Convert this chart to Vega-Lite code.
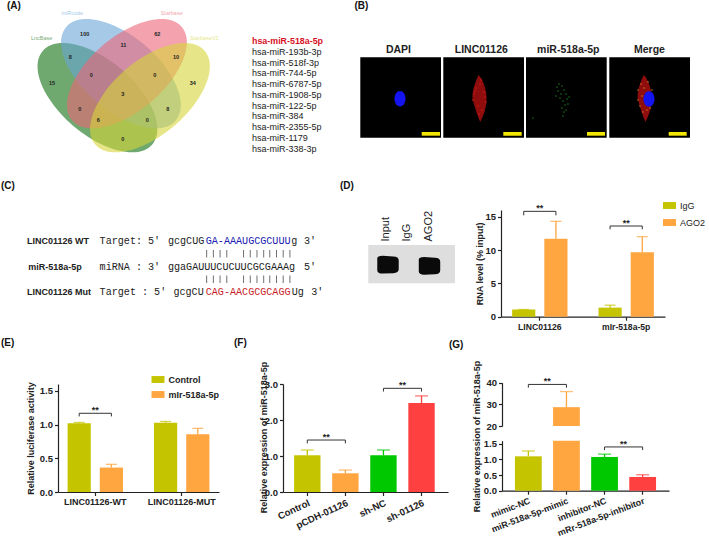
{"$schema":"https://vega.github.io/schema/vega-lite/v6.json","width":709,"height":536,"autosize":{"type":"none"},"padding":0,"background":"white","config":{"view":{"stroke":null},"font":"Liberation Sans","axis":{"grid":false,"labelFont":"Liberation Sans","labelFontWeight":"bold","labelColor":"#222","titleFont":"Liberation Sans","titleFontWeight":"bold","titleColor":"#222","titleFontSize":9,"domainColor":"#222","domainWidth":1.2,"tickColor":"#222","tickWidth":1.2,"tickSize":3.5,"labelOverlap":false,"labelBound":false,"labelFlush":false,"labelPadding":2},"axisX":{"labelFontSize":8.6},"axisY":{"labelFontSize":9.5}},"resolve":{"scale":{"x":"independent","y":"independent","color":"independent","xOffset":"independent"},"axis":{"x":"independent","y":"independent"},"legend":{"color":"independent"}},"layer":[
{"encoding":{"x":{"field":"x","type":"quantitative","scale":{"domain":[0,709],"range":[0,709]},"axis":null},"y":{"field":"y","type":"quantitative","scale":{"domain":[0,536],"range":[0,536]},"axis":null}},"layer":[
{"data":{"values":[{"p":"(A)","x":7,"y":6},{"p":"(B)","x":354.5,"y":6},{"p":"(C)","x":1,"y":186},{"p":"(D)","x":340,"y":186},{"p":"(E)","x":1,"y":342.5},{"p":"(F)","x":234,"y":342.5},{"p":"(G)","x":449,"y":344.5}]},"mark":{"type":"text","align":"left","baseline":"middle","fontWeight":"bold","fontSize":10,"color":"#111"},"encoding":{"text":{"field":"p"}}},
{"data":{"values":[{"set":"LncBase","x":97.5,"y":97.7},{"set":"miRcode","x":121,"y":73.7}]},"mark":{"type":"point","filled":true,"opacity":0.6,"size":40000,"shape":"M0.548 0.467 A0.72 0.37 40.4 1 0 -0.548 -0.467 A0.72 0.37 40.4 1 0 0.548 0.467 Z"},"encoding":{"color":{"field":"set","type":"nominal","scale":{"domain":["LncBase","miRcode","Starbase","StarbaseV2"],"range":["#0f700f","#69a5d5","#ed6678","#d6d638"]},"legend":null}}},
{"data":{"values":[{"set":"Starbase","x":127,"y":73.7},{"set":"StarbaseV2","x":150,"y":97.7}]},"mark":{"type":"point","filled":true,"opacity":0.6,"size":40000,"shape":"M-0.548 0.467 A0.72 0.37 -40.4 1 1 0.548 -0.467 A0.72 0.37 -40.4 1 1 -0.548 0.467 Z"},"encoding":{"color":{"field":"set","type":"nominal","legend":null}}},
{"data":{"values":[{"set":"LncBase","x":41.7,"y":37.7},{"set":"miRcode","x":72.3,"y":13.3},{"set":"Starbase","x":171.7,"y":13.3},{"set":"StarbaseV2","x":204.3,"y":37.7}]},"mark":{"type":"text","fontSize":5.5,"opacity":0.6},"encoding":{"text":{"field":"set"},"color":{"field":"set","type":"nominal","legend":null}}},
{"data":{"values":[{"n":"100","x":84.7,"y":34},{"n":"62","x":157.3,"y":34},{"n":"8","x":70.3,"y":56.7},{"n":"11","x":123.3,"y":45},{"n":"10","x":176,"y":56.7},{"n":"15","x":52,"y":82.7},{"n":"0","x":91.3,"y":75.3},{"n":"0","x":154.7,"y":75.3},{"n":"34","x":192.7,"y":82.7},{"n":"3","x":122.7,"y":94.3},{"n":"0","x":79.7,"y":109},{"n":"8","x":167.7,"y":109},{"n":"6","x":98.3,"y":120},{"n":"0","x":147.3,"y":120},{"n":"0","x":122.7,"y":139}]},"mark":{"type":"text","fontSize":5.5,"fontWeight":"bold","color":"#222","baseline":"middle"},"encoding":{"text":{"field":"n"}}},
{"data":{"values":[{"x":360.3,"x2":441,"y":57.3,"y2":137.7},{"x":443.3,"x2":524,"y":57.3,"y2":137.7},{"x":526,"x2":606.7,"y":57.3,"y2":137.7},{"x":609.3,"x2":690,"y":57.3,"y2":137.7}]},"mark":{"type":"rect","color":"#000000"},"encoding":{"x2":{"field":"x2"},"y2":{"field":"y2"}}},
{"data":{"values":[{"x":421.7,"x2":440,"y":132,"y2":135.7},{"x":503.3,"x2":521.7,"y":132,"y2":135.7},{"x":587,"x2":605,"y":132,"y2":135.7},{"x":668.7,"x2":686.7,"y":132,"y2":135.7}]},"mark":{"type":"rect","color":"#f2e600"},"encoding":{"x2":{"field":"x2"},"y2":{"field":"y2"}}},
{"data":{"values":[{"x":368.3,"x2":455,"y":245,"y2":283.3}]},"mark":{"type":"rect","color":"#dedede"},"encoding":{"x2":{"field":"x2"},"y2":{"field":"y2"}}},
{"data":{"values":[{"t":"DAPI","x":398.5,"y":50},{"t":"LINC01126","x":481.3,"y":50},{"t":"miR-518a-5p","x":568.3,"y":50},{"t":"Merge","x":649.5,"y":50}]},"mark":{"type":"text","fontSize":10.5,"fontWeight":"bold","color":"#222","baseline":"middle"},"encoding":{"text":{"field":"t"}}},
{"data":{"values":[{"c":"LINC","x":479.8,"y":98.5},{"c":"Merge","x":645,"y":98.5}]},"mark":{"type":"point","filled":true,"color":"#8f0d0d","opacity":1,"size":2209,"shape":"M-0.05 -1 C0.15 -0.8 0.32 -0.3 0.28 0.1 C0.27 0.5 0.12 0.8 0.02 1 C-0.1 0.75 -0.2 0.4 -0.3 0.05 C-0.35 -0.2 -0.25 -0.6 -0.05 -1 Z"}},
{"data":{"values":[{"x":476,"y":88},{"x":474,"y":94},{"x":480,"y":84},{"x":484,"y":92},{"x":473,"y":100},{"x":478,"y":106},{"x":482,"y":110},{"x":486,"y":102},{"x":479,"y":114},{"x":481,"y":80},{"x":485,"y":97},{"x":475,"y":91}]},"mark":{"type":"point","filled":true,"color":"#cc1818","opacity":1,"size":3}},
{"data":{"values":[{"x":638,"y":90},{"x":641,"y":84},{"x":644,"y":88},{"x":640,"y":106},{"x":643,"y":112},{"x":638,"y":100},{"x":648,"y":82},{"x":652,"y":90},{"x":647,"y":110},{"x":642,"y":96},{"x":650,"y":108}]},"mark":{"type":"point","filled":true,"color":"#d89020","opacity":1,"size":2}},
{"data":{"values":[{"x":557,"y":87},{"x":559,"y":84},{"x":562,"y":86},{"x":558,"y":91},{"x":561,"y":94},{"x":564,"y":90},{"x":566,"y":94},{"x":560,"y":98},{"x":563,"y":101},{"x":567,"y":99},{"x":569,"y":97},{"x":565,"y":105},{"x":562,"y":108},{"x":568,"y":104},{"x":564,"y":112},{"x":563,"y":116},{"x":533,"y":118},{"x":556,"y":96},{"x":566,"y":110}]},"mark":{"type":"point","filled":true,"color":"#1f8f1f","opacity":1,"size":2}},
{"data":{"values":[{"x":400,"y":98.7},{"x":649,"y":99}]},"mark":{"type":"point","filled":true,"color":"#1414f0","opacity":1,"size":237,"shape":"M-0.72 0 A0.72 1 0 1 1 0.72 0 A0.72 1 0 1 1 -0.72 0 Z"}},
{"data":{"values":[{"t":"Input","x":385.5,"y":241.5},{"t":"IgG","x":407,"y":241.5},{"t":"AGO2","x":429,"y":241.5}]},"mark":{"type":"text","angle":270,"align":"left","baseline":"middle","fontSize":11,"color":"#222"},"encoding":{"text":{"field":"t"}}},
{"data":{"values":[{"band":"Input","x":388,"y":264.8},{"band":"AGO2","x":429.5,"y":266}]},"mark":{"type":"point","filled":true,"color":"#0a0a0a","opacity":1,"size":460,"shape":"M-1 -0.6 Q-1 -0.85 -0.5 -0.85 L0.5 -0.78 Q1 -0.78 1 -0.4 L1 0.4 Q1 0.75 0.5 0.78 L-0.5 0.82 Q-1 0.82 -1 0.5 Z"}}
]},
{"data":{"values":[{"rank":0,"name":"hsa-miR-518a-5p"},{"rank":1,"name":"hsa-miR-193b-3p"},{"rank":2,"name":"hsa-miR-518f-3p"},{"rank":3,"name":"hsa-miR-744-5p"},{"rank":4,"name":"hsa-miR-6787-5p"},{"rank":5,"name":"hsa-miR-1908-5p"},{"rank":6,"name":"hsa-miR-122-5p"},{"rank":7,"name":"hsa-miR-384"},{"rank":8,"name":"hsa-miR-2355-5p"},{"rank":9,"name":"hsa-miR-1179"},{"rank":10,"name":"hsa-miR-338-3p"}]},"encoding":{"x":{"datum":0,"type":"quantitative","scale":{"domain":[0,1],"range":[252,340]},"axis":null},"y":{"field":"rank","type":"quantitative","scale":{"domain":[0,10],"range":[41,148.5]},"axis":null},"text":{"field":"name"},"color":{"condition":{"test":"datum.rank == 0","value":"#d7121f"},"value":"#222"}},"layer":[{"transform":[{"filter":"datum.rank != 0"}],"mark":{"type":"text","align":"left","baseline":"middle","fontSize":9}},{"transform":[{"filter":"datum.rank == 0"}],"mark":{"type":"text","align":"left","baseline":"middle","fontSize":8.9,"fontWeight":"bold"}}]},
{"encoding":{"x":{"field":"col","type":"quantitative","scale":{"domain":[0,50],"range":[27,332]},"axis":null},"y":{"field":"line","type":"quantitative","scale":{"domain":[0,4],"range":[241,292]},"axis":null}},"layer":[
{"data":{"values":[{"t":"LINC01126 WT","col":0,"line":0},{"t":"miR-518a-5p","col":0.2,"line":2},{"t":"LINC01126 Mut","col":0,"line":4}]},"mark":{"type":"text","align":"left","baseline":"middle","fontSize":9,"fontWeight":"bold","color":"#222"},"encoding":{"text":{"field":"t"}}},
{"data":{"values":[{"t":"Target: 5'","col":11.9,"line":0,"tone":"plain"},{"t":"gcgCUG","col":23.1,"line":0,"tone":"plain"},{"t":"GA-AAAUGCGCUUU","col":29.3,"line":0,"tone":"wild type"},{"t":"g","col":43.3,"line":0,"tone":"plain"},{"t":"3'","col":45.4,"line":0,"tone":"plain"},{"t":"miRNA : 3'","col":11.9,"line":2,"tone":"plain"},{"t":"ggaGAUUUCUCUUCGCGAAAg","col":23.1,"line":2,"tone":"plain"},{"t":"5'","col":45.4,"line":2,"tone":"plain"},{"t":"Target : 5'","col":11.9,"line":4,"tone":"plain"},{"t":"gcgCU","col":24,"line":4,"tone":"plain"},{"t":"CAG-AACGCGCAGG","col":29.3,"line":4,"tone":"mutant"},{"t":"Ug","col":43.4,"line":4,"tone":"plain"},{"t":"3'","col":46.6,"line":4,"tone":"plain"}]},"mark":{"type":"text","align":"left","baseline":"middle","font":"Liberation Mono","fontSize":10.1},"encoding":{"text":{"field":"t"},"color":{"field":"tone","type":"nominal","scale":{"domain":["plain","wild type","mutant"],"range":["#222222","#2020b0","#c81e28"]},"legend":null}}},
{"data":{"values":[{"col":29.45,"line":1},{"col":30.55,"line":1},{"col":31.65,"line":1},{"col":32.75,"line":1},{"col":35.5,"line":1},{"col":36.6,"line":1},{"col":37.7,"line":1},{"col":38.8,"line":1},{"col":39.8,"line":1},{"col":40.9,"line":1},{"col":42,"line":1},{"col":43.1,"line":1},{"col":29.45,"line":3},{"col":30.55,"line":3},{"col":31.65,"line":3},{"col":32.75,"line":3},{"col":35.5,"line":3},{"col":36.6,"line":3},{"col":37.7,"line":3},{"col":38.8,"line":3},{"col":39.8,"line":3},{"col":40.9,"line":3},{"col":42,"line":3},{"col":43.1,"line":3}]},"mark":{"type":"tick","orient":"vertical","size":7.5,"thickness":1,"color":"#333"}}
]},
{"data":{"values":[{"group":"LINC01126","series":"IgG","mean":1.08,"upper":1.08},{"group":"LINC01126","series":"AGO2","mean":11.7,"upper":14.3},{"group":"mIr-518a-5p","series":"IgG","mean":1.36,"upper":1.73},{"group":"mIr-518a-5p","series":"AGO2","mean":9.66,"upper":12}]},"encoding":{"x":{"field":"group","type":"nominal","title":null,"scale":{"domain":["LINC01126","mIr-518a-5p"],"range":[501,665],"paddingInner":0.359,"paddingOuter":0.129},"axis":{"orient":"bottom","offset":-219.3,"labelAngle":0}}},"layer":[
{"encoding":{"xOffset":{"field":"series","type":"nominal","scale":{"domain":["IgG","AGO2"],"paddingInner":0.28}},"color":{"field":"series","type":"nominal","scale":{"domain":["IgG","AGO2"],"range":["#c4c400","#ffa640"]},"legend":{"title":null,"orient":"none","legendX":665,"legendY":201,"symbolType":"M-1.5 -0.8 H1.5 V0.8 H-1.5 Z","symbolSize":75,"symbolOpacity":1,"symbolStrokeWidth":0,"labelFont":"Liberation Sans","labelFontSize":9,"labelFontWeight":"normal","labelColor":"#222","rowPadding":7,"labelOffset":6}}},"layer":[
{"mark":{"type":"bar"},"encoding":{"y":{"field":"mean","type":"quantitative","scale":{"domain":[0,15],"range":[316.7,210]},"axis":{"orient":"left","offset":-501,"values":[0,5,10,15],"title":"RNA level (% input)","titleX":-17}}}},
{"mark":{"type":"rule","strokeWidth":1.3},"encoding":{"y":{"field":"mean","type":"quantitative"},"y2":{"field":"upper"}}},
{"mark":{"type":"tick","orient":"horizontal","size":11,"thickness":1.3},"encoding":{"y":{"field":"upper","type":"quantitative"}}}]},
{"data":{"values":[{"b":1,"group":"LINC01126","series":"IgG","level":15.2,"step":1},{"b":1,"group":"LINC01126","series":"IgG","level":15.8,"step":2},{"b":1,"group":"LINC01126","series":"AGO2","level":15.8,"step":3},{"b":1,"group":"LINC01126","series":"AGO2","level":15.2,"step":4},{"b":2,"group":"mIr-518a-5p","series":"IgG","level":13.1,"step":1},{"b":2,"group":"mIr-518a-5p","series":"IgG","level":13.6,"step":2},{"b":2,"group":"mIr-518a-5p","series":"AGO2","level":13.6,"step":3},{"b":2,"group":"mIr-518a-5p","series":"AGO2","level":13.1,"step":4}]},"mark":{"type":"line","color":"#333","strokeWidth":1},"encoding":{"xOffset":{"field":"series","type":"nominal","scale":{"domain":["IgG","AGO2"],"paddingInner":0.28}},"y":{"field":"level","type":"quantitative"},"detail":{"field":"b"},"order":{"field":"step"}}},
{"data":{"values":[{"group":"LINC01126","level":15.8},{"group":"mIr-518a-5p","level":13.6}]},"mark":{"type":"text","text":"**","fontWeight":"bold","fontSize":9,"dy":-3,"color":"#222","baseline":"middle"},"encoding":{"y":{"field":"level","type":"quantitative"}}}
]},
{"data":{"values":[{"group":"LINC01126-WT","series":"Control","mean":1.02,"upper":1.03},{"group":"LINC01126-WT","series":"mIr-518a-5p","mean":0.362,"upper":0.41},{"group":"LINC01126-MUT","series":"Control","mean":1.026,"upper":1.045},{"group":"LINC01126-MUT","series":"mIr-518a-5p","mean":0.855,"upper":0.943}]},"encoding":{"x":{"field":"group","type":"nominal","title":null,"scale":{"domain":["LINC01126-WT","LINC01126-MUT"],"range":[58,219],"paddingInner":0.359,"paddingOuter":0.111},"axis":{"orient":"bottom","offset":-44,"labelAngle":0,"labelFontSize":9}}},"layer":[
{"encoding":{"xOffset":{"field":"series","type":"nominal","scale":{"domain":["Control","mIr-518a-5p"],"paddingInner":0.28}},"color":{"field":"series","type":"nominal","scale":{"domain":["Control","mIr-518a-5p"],"range":["#c4c400","#ffa640"]},"legend":{"title":null,"orient":"none","legendX":153.5,"legendY":375,"symbolType":"M-1.5 -0.8 H1.5 V0.8 H-1.5 Z","symbolSize":75,"symbolOpacity":1,"symbolStrokeWidth":0,"labelFont":"Liberation Sans","labelFontSize":9,"labelFontWeight":"bold","labelColor":"#222","rowPadding":5,"labelOffset":6}}},"layer":[
{"mark":{"type":"bar"},"encoding":{"y":{"field":"mean","type":"quantitative","scale":{"domain":[0,1.5],"range":[492,384]},"axis":{"orient":"left","offset":-58,"values":[0,0.5,1,1.5],"format":".1f","title":"Relative luciferase activity","titleX":-22.5}}}},
{"mark":{"type":"rule","strokeWidth":1.3},"encoding":{"y":{"field":"mean","type":"quantitative"},"y2":{"field":"upper"}}},
{"mark":{"type":"tick","orient":"horizontal","size":11,"thickness":1.3},"encoding":{"y":{"field":"upper","type":"quantitative"}}}]},
{"data":{"values":[{"b":1,"group":"LINC01126-WT","series":"Control","level":1.12,"step":1},{"b":1,"group":"LINC01126-WT","series":"Control","level":1.166,"step":2},{"b":1,"group":"LINC01126-WT","series":"mIr-518a-5p","level":1.166,"step":3},{"b":1,"group":"LINC01126-WT","series":"mIr-518a-5p","level":1.12,"step":4}]},"mark":{"type":"line","color":"#333","strokeWidth":1},"encoding":{"xOffset":{"field":"series","type":"nominal","scale":{"domain":["Control","mIr-518a-5p"],"paddingInner":0.28}},"y":{"field":"level","type":"quantitative"},"detail":{"field":"b"},"order":{"field":"step"}}},
{"data":{"values":[{"group":"LINC01126-WT","level":1.166}]},"mark":{"type":"text","text":"**","fontWeight":"bold","fontSize":9,"dy":-3,"color":"#222","baseline":"middle"},"encoding":{"y":{"field":"level","type":"quantitative"}}}
]},
{"data":{"values":[{"group":"Control","mean":1.02,"upper":1.167},{"group":"pCDH-01126","mean":0.52,"upper":0.61},{"group":"sh-NC","mean":1.02,"upper":1.167},{"group":"sh-01126","mean":2.47,"upper":2.67}]},"encoding":{"x":{"field":"group","type":"nominal","title":null,"scale":{"domain":["Control","pCDH-01126","sh-NC","sh-01126"],"range":[283,448],"paddingInner":0.307,"paddingOuter":0.32,"align":0.455},"axis":{"orient":"bottom","offset":-44,"labelAngle":-25,"labelAlign":"right","labelBaseline":"top","labelFontSize":9.6}}},"layer":[
{"encoding":{"color":{"field":"group","type":"nominal","scale":{"domain":["Control","pCDH-01126","sh-NC","sh-01126"],"range":["#c4c400","#ffa640","#00c800","#ff4040"]},"legend":null}},"layer":[
{"mark":{"type":"bar"},"encoding":{"y":{"field":"mean","type":"quantitative","scale":{"domain":[0,3],"range":[492,384]},"axis":{"orient":"left","offset":-283,"values":[0,1,2,3],"title":"Relative expression of miR-518a-5p","titleX":-15,"titleY":437}}}},
{"mark":{"type":"rule","strokeWidth":1.3},"encoding":{"y":{"field":"mean","type":"quantitative"},"y2":{"field":"upper"}}},
{"mark":{"type":"tick","orient":"horizontal","size":13,"thickness":1.3},"encoding":{"y":{"field":"upper","type":"quantitative"}}}]},
{"data":{"values":[{"b":1,"group":"Control","level":1.35,"step":1},{"b":1,"group":"Control","level":1.444,"step":2},{"b":1,"group":"pCDH-01126","level":1.444,"step":3},{"b":1,"group":"pCDH-01126","level":1.35,"step":4},{"b":2,"group":"sh-NC","level":2.79,"step":1},{"b":2,"group":"sh-NC","level":2.88,"step":2},{"b":2,"group":"sh-01126","level":2.88,"step":3},{"b":2,"group":"sh-01126","level":2.79,"step":4}]},"mark":{"type":"line","color":"#333","strokeWidth":1},"encoding":{"y":{"field":"level","type":"quantitative"},"detail":{"field":"b"},"order":{"field":"step"}}},
{"data":{"values":[{"group":"Control","level":1.444},{"group":"sh-NC","level":2.88}]},"mark":{"type":"text","text":"**","fontWeight":"bold","fontSize":9,"dx":19,"dy":-3,"color":"#222","baseline":"middle"},"encoding":{"y":{"field":"level","type":"quantitative"}}}
]},
{"data":{"values":[{"group":"miR-518a-5p-mimic","mean":28.7,"upper":35.9}]},"encoding":{"x":{"field":"group","type":"nominal","title":null,"scale":{"domain":["mimic-NC","miR-518a-5p-mimic","inhibitor-NC","mRr-518a-5p-inhibitor"],"range":[502,669],"paddingInner":0.297,"paddingOuter":0.34},"axis":null}},"layer":[
{"mark":{"type":"bar","color":"#ffa640"},"encoding":{"y":{"field":"mean","type":"quantitative","scale":{"domain":[20,40],"range":[426,382.7],"clamp":true},"axis":{"orient":"left","offset":-502,"values":[20,30,40],"title":null}},"y2":{"datum":20}}},
{"mark":{"type":"rule","strokeWidth":1.3,"color":"#ffa640"},"encoding":{"y":{"field":"mean","type":"quantitative"},"y2":{"field":"upper"}}},
{"mark":{"type":"tick","orient":"horizontal","size":13,"thickness":1.3,"color":"#ffa640"},"encoding":{"y":{"field":"upper","type":"quantitative"}}},
{"data":{"values":[{"group":"mimic-NC","level":37.7,"step":1},{"group":"mimic-NC","level":39.2,"step":2},{"group":"miR-518a-5p-mimic","level":39.2,"step":3},{"group":"miR-518a-5p-mimic","level":37.7,"step":4}]},"mark":{"type":"line","color":"#333","strokeWidth":1},"encoding":{"y":{"field":"level","type":"quantitative"},"order":{"field":"step"}}},
{"data":{"values":[{"group":"mimic-NC","level":39.2}]},"mark":{"type":"text","text":"**","fontWeight":"bold","fontSize":9,"dx":19,"dy":-3,"color":"#222","baseline":"middle"},"encoding":{"y":{"field":"level","type":"quantitative"}}}
]},
{"data":{"values":[{"group":"mimic-NC","mean":1.1,"upper":1.27},{"group":"miR-518a-5p-mimic","mean":28.7},{"group":"inhibitor-NC","mean":1.08,"upper":1.17},{"group":"mRr-518a-5p-inhibitor","mean":0.44,"upper":0.51}]},"encoding":{"x":{"field":"group","type":"nominal","title":null,"scale":{"domain":["mimic-NC","miR-518a-5p-mimic","inhibitor-NC","mRr-518a-5p-inhibitor"],"range":[502,669],"paddingInner":0.297,"paddingOuter":0.34},"axis":{"orient":"bottom","offset":-45.3,"labelAngle":-21,"labelAlign":"right","labelBaseline":"top","labelFontSize":8.9}}},"layer":[
{"encoding":{"color":{"field":"group","type":"nominal","scale":{"domain":["mimic-NC","miR-518a-5p-mimic","inhibitor-NC","mRr-518a-5p-inhibitor"],"range":["#c4c400","#ffa640","#00c800","#ff4040"]},"legend":null}},"layer":[
{"mark":{"type":"bar"},"encoding":{"y":{"field":"mean","type":"quantitative","scale":{"domain":[0,1.5],"range":[490.7,440.7],"clamp":true},"axis":{"orient":"left","offset":-502,"values":[0,0.5,1,1.5],"format":".1f","title":"Relative expression of miR-518a-5p","titleX":-21,"titleY":436}}}},
{"transform":[{"filter":"isValid(datum.upper)"}],"mark":{"type":"rule","strokeWidth":1.3},"encoding":{"y":{"field":"mean","type":"quantitative"},"y2":{"field":"upper"}}},
{"transform":[{"filter":"isValid(datum.upper)"}],"mark":{"type":"tick","orient":"horizontal","size":13,"thickness":1.3},"encoding":{"y":{"field":"upper","type":"quantitative"}}}]},
{"data":{"values":[{"group":"inhibitor-NC","level":1.3,"step":1},{"group":"inhibitor-NC","level":1.4,"step":2},{"group":"mRr-518a-5p-inhibitor","level":1.4,"step":3},{"group":"mRr-518a-5p-inhibitor","level":1.3,"step":4}]},"mark":{"type":"line","color":"#333","strokeWidth":1},"encoding":{"y":{"field":"level","type":"quantitative"},"order":{"field":"step"}}},
{"data":{"values":[{"group":"inhibitor-NC","level":1.4}]},"mark":{"type":"text","text":"**","fontWeight":"bold","fontSize":9,"dx":19,"dy":-3,"color":"#222","baseline":"middle"},"encoding":{"y":{"field":"level","type":"quantitative"}}}
]}
]}
